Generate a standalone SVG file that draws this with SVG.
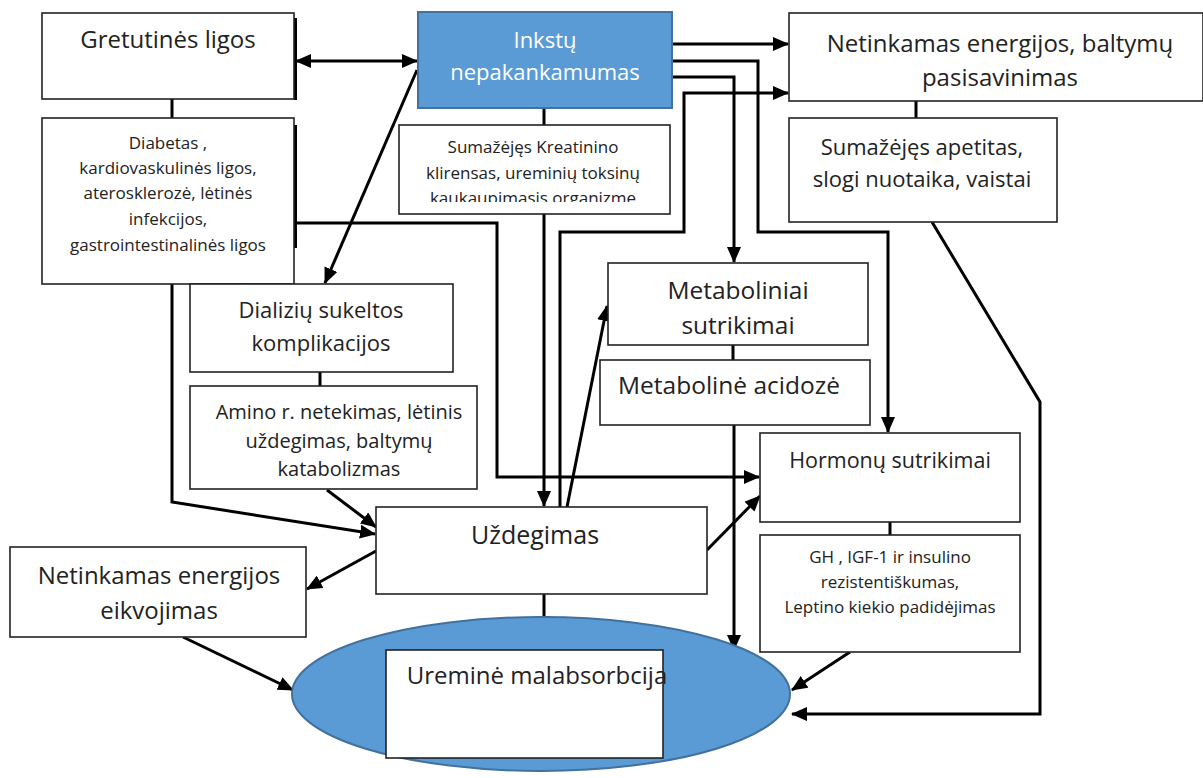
<svg xmlns="http://www.w3.org/2000/svg" width="1203" height="778" viewBox="0 0 1203 778">
<style>
.box{fill:#fff;stroke:#222;stroke-width:1.6}
.blue{fill:#5B9BD5;stroke:#41719C;stroke-width:2}
.t{font-family:"Open Sans","Liberation Sans",sans-serif;fill:#222;text-anchor:middle}
.L{font-size:24px}
.K{font-size:22px}
.S{font-size:17px}
.M{font-size:20px}
.w{fill:#fff}
.c{fill:none;stroke:#000;stroke-width:3;stroke-linejoin:miter}
.sh{stroke:#000;stroke-width:3}
</style>
<defs>
<marker id="a" markerUnits="userSpaceOnUse" markerWidth="16" markerHeight="14" refX="15" refY="7" orient="auto">
<path d="M0,0 L16,7 L0,14 Z" fill="#000"/>
</marker>
<marker id="s" markerUnits="userSpaceOnUse" markerWidth="16" markerHeight="14" refX="1" refY="7" orient="auto">
<path d="M16,0 L0,7 L16,14 Z" fill="#000"/>
</marker>
<clipPath id="clipK"><rect x="399" y="125" width="272" height="77"/></clipPath>
</defs>

<g id="connectors">
<line class="c" x1="296" y1="61" x2="417" y2="61" marker-start="url(#s)" marker-end="url(#a)"/>
<line class="c" x1="417" y1="70" x2="325" y2="283" marker-end="url(#a)"/>
<line class="c" x1="172" y1="99" x2="172" y2="118"/>
<line class="c" x1="544" y1="108" x2="544" y2="125"/>
<line class="c" x1="916" y1="101" x2="916" y2="118"/>
<line class="c" x1="320" y1="372" x2="320" y2="386"/>
<line class="c" x1="733" y1="345" x2="733" y2="360"/>
<line class="c" x1="890" y1="522" x2="890" y2="535"/>
<line class="c" x1="672" y1="44" x2="788" y2="44" marker-end="url(#a)"/>
<polyline class="c" points="672,61 758,61 758,232 888,232 888,432" marker-end="url(#a)"/>
<polyline class="c" points="672,77 734,77 734,262" marker-end="url(#a)"/>
<polyline class="c" points="560,507 560,232 684,232 684,93 788,93" marker-end="url(#a)"/>
<line class="c" x1="544" y1="214" x2="544" y2="506" marker-end="url(#a)"/>
<polyline class="c" points="294,223 497,223 497,477 759,477" marker-end="url(#a)"/>
<line class="c" x1="567" y1="507" x2="607" y2="306" marker-end="url(#a)"/>
<line class="c" x1="707" y1="550" x2="760" y2="496" marker-end="url(#a)"/>
<line class="c" x1="734" y1="425" x2="734" y2="650" marker-end="url(#a)"/>
<line class="c" x1="850" y1="652" x2="792" y2="690" marker-end="url(#a)"/>
<polyline class="c" points="932,222 1040,402 1040,714 792,714" marker-end="url(#a)"/>
<line class="c" x1="544" y1="594" x2="544" y2="617"/>
<line class="c" x1="538" y1="617" x2="550" y2="617" style="stroke-width:2"/>
<line class="c" x1="376" y1="551" x2="307" y2="589" marker-end="url(#a)"/>
<line class="c" x1="183" y1="637" x2="293" y2="690" marker-end="url(#a)"/>
<line class="c" x1="327" y1="490" x2="376" y2="527" marker-end="url(#a)"/>
<polyline class="c" points="172,284 172,502 375,534" marker-end="url(#a)"/>
</g>

<g id="gretutines">
<line class="sh" x1="295.5" y1="18" x2="295.5" y2="100"/>
<rect class="box" x="42" y="13" width="252" height="86"/>
<text class="t L" x="168" y="48">Gretutinės ligos</text>
</g>

<g id="diabetas">
<line class="sh" x1="295.5" y1="125" x2="295.5" y2="248"/>
<rect class="box" x="42" y="118" width="252" height="166"/>
<text class="t S" x="168" y="149">Diabetas ,</text>
<text class="t S" x="168" y="174">kardiovaskulinės ligos,</text>
<text class="t S" x="168" y="199">aterosklerozė, lėtinės</text>
<text class="t S" x="168" y="225">infekcijos,</text>
<text class="t S" x="168" y="251">gastrointestinalinės ligos</text>
</g>

<g id="inkstu">
<rect class="blue" x="418" y="12" width="254" height="96"/>
<text class="t K w" x="545" y="48">Inkstų</text>
<text class="t K w" x="545" y="80">nepakankamumas</text>
</g>

<g id="kreatinino">
<rect class="box" x="399" y="125" width="271" height="89"/>
<g clip-path="url(#clipK)">
<text class="t S" x="533" y="153">Sumažėjęs Kreatinino</text>
<text class="t S" x="533" y="179">klirensas, ureminių toksinų</text>
<text class="t S" x="533" y="204">kaukaupimasis organizme</text>
</g>
</g>

<g id="pasisavinimas">
<rect class="box" x="789" y="13" width="414" height="88"/>
<text class="t L" x="1000" y="52">Netinkamas energijos, baltymų</text>
<text class="t L" x="1000" y="86">pasisavinimas</text>
</g>

<g id="apetitas">
<rect class="box" x="789" y="118" width="268" height="104"/>
<text class="t K" x="922" y="155">Sumažėjęs apetitas,</text>
<text class="t K" x="922" y="187">slogi nuotaika, vaistai</text>
</g>

<g id="dializiu">
<rect class="box" x="190" y="284" width="263" height="88"/>
<text class="t K" x="321" y="318">Dializių sukeltos</text>
<text class="t K" x="321" y="351">komplikacijos</text>
</g>

<g id="amino">
<rect class="box" x="190" y="386" width="287" height="103"/>
<text class="t M" x="339" y="419">Amino r. netekimas, lėtinis</text>
<text class="t M" x="339" y="448">uždegimas, baltymų</text>
<text class="t M" x="339" y="476">katabolizmas</text>
</g>

<g id="metaboliniai">
<rect class="box" x="608" y="263" width="260" height="82"/>
<text class="t" style="font-size:24.5px" x="738" y="299">Metaboliniai</text>
<text class="t" style="font-size:24.5px" x="738" y="334">sutrikimai</text>
</g>

<g id="acidoze">
<rect class="box" x="600" y="360" width="270" height="65"/>
<text class="t" style="font-size:24.5px" x="729" y="394">Metabolinė acidozė</text>
</g>

<g id="hormonu">
<rect class="box" x="760" y="433" width="260" height="89"/>
<text class="t" style="font-size:21.5px" x="890" y="468">Hormonų sutrikimai</text>
</g>

<g id="gh">
<rect class="box" x="760" y="535" width="260" height="117"/>
<text class="t S" x="890" y="563">GH , IGF-1 ir insulino</text>
<text class="t S" x="890" y="588">rezistentiškumas,</text>
<text class="t S" x="890" y="613">Leptino kiekio padidėjimas</text>
</g>

<g id="uzdegimas">
<rect class="box" x="376" y="507" width="331" height="87"/>
<text class="t" style="font-size:25px" x="535" y="544">Uždegimas</text>
</g>

<g id="eikvojimas">
<rect class="box" x="10" y="547" width="296" height="90"/>
<text class="t L" x="159" y="584">Netinkamas energijos</text>
<text class="t L" x="159" y="619">eikvojimas</text>
</g>

<g id="malabsorbcija">
<ellipse class="blue" cx="541" cy="694" rx="249" ry="77"/>
<rect class="box" x="386" y="650" width="277" height="108"/>
<text class="t L" x="537" y="684">Ureminė malabsorbcija</text>
</g>
</svg>
